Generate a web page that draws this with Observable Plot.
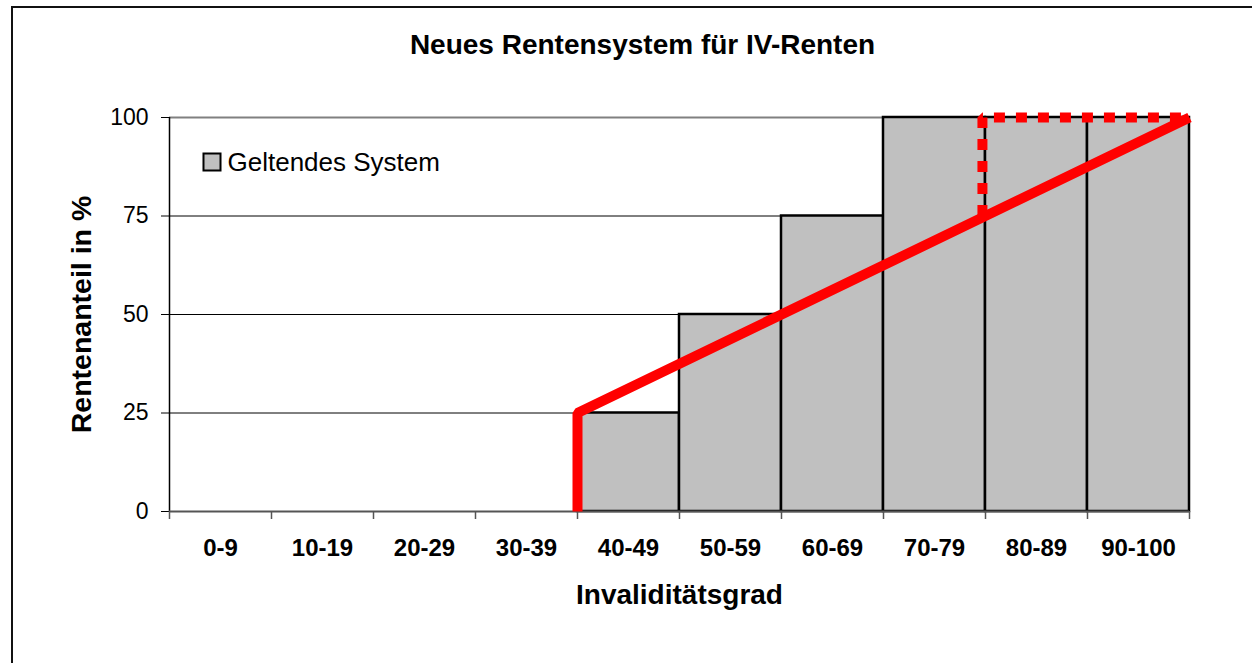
<!DOCTYPE html>
<html>
<head>
<meta charset="utf-8">
<script src="https://cdn.jsdelivr.net/npm/d3@7"></script>
<script src="https://cdn.jsdelivr.net/npm/@observablehq/plot@0.6"></script>
<style>
  html, body { margin: 0; padding: 0; background: #fff; }
  #wrap { position: relative; width: 1252px; height: 663px; overflow: hidden; font-family: "Liberation Sans", Arial, sans-serif; }
  #frame { position: absolute; left: 11px; top: 6px; width: 1300px; height: 700px; border-left: 2px solid #111; border-top: 2px solid #111; box-sizing: border-box; pointer-events: none; }
  #chart svg { display: block; }
</style>
</head>
<body>
<div id="wrap"><div id="chart"></div><div id="frame"></div></div>
<script>
// ---- data ----
const title = "Neues Rentensystem für IV-Renten";
const xTitle = "Invaliditätsgrad";
const yTitle = "Rentenanteil in %";
const legendLabel = "Geltendes System";
const categories = ["0-9", "10-19", "20-29", "30-39", "40-49", "50-59", "60-69", "70-79", "80-89", "90-100"];
const classStart = [0, 10, 20, 30, 40, 50, 60, 70, 80, 90];
const classEnd = [10, 20, 30, 40, 50, 60, 70, 80, 90, 100];
const currentSystem = [0, 0, 0, 0, 25, 50, 75, 100, 100, 100];
const newSystemX = [40, 40, 100];
const newSystemY = [0, 25, 100];
const variantX = [79.7, 79.7, 100];
const variantY = [75, 100, 100];
const yTicks = [0, 25, 50, 75, 100];
const gridValues = [25, 50, 75, 100];

// ---- derived tables ----
const bars = categories.map((c, i) => ({cat: c, start: classStart[i], end: classEnd[i], value: currentSystem[i]}));
const centers = categories.map((c, i) => (classStart[i] + classEnd[i]) / 2);
const edges = [classStart[0], ...classEnd];
const newLine = newSystemX.map((x, i) => ({x, y: newSystemY[i]}));
const variantLine = variantX.map((x, i) => ({x, y: variantY[i]}));

const font = "'Liberation Sans', Arial, sans-serif";

const chart = Plot.plot({
  width: 1252,
  height: 663,
  marginLeft: 169,
  marginRight: 63,
  marginTop: 117,
  marginBottom: 152,
  style: {fontFamily: font, background: "transparent", color: "#000", overflow: "visible"},
  x: {type: "linear", domain: [0, 100], axis: null},
  y: {domain: [0, 100], axis: null},
  marks: [
    Plot.ruleY(gridValues, {stroke: (d) => d === 100 ? "#808080" : "#000", strokeWidth: (d) => d === 100 ? 2 : 1}),
    Plot.rectY(bars.filter(d => d.value > 0), {x1: "start", x2: "end", y: "value", fill: "#c0c0c0", stroke: "#000", strokeWidth: 2.5, inset: 0}),
    Plot.ruleX([0], {y1: 0, y2: 100, stroke: "#000", strokeWidth: 1.5}),
    Plot.ruleY([0], {stroke: "#555", strokeWidth: 2}),
    Plot.axisY(yTicks, {tickSize: 8, tickPadding: 13, fontSize: 23, stroke: "#000", label: null}),
    Plot.axisX(edges, {tickSize: 8, stroke: "#555", strokeWidth: 1.5, tickFormat: () => "", label: null}),
    Plot.axisX(centers, {tickSize: 0, tickPadding: 27, fontSize: 24, fontWeight: "bold", tickFormat: d => categories[centers.indexOf(d)], label: null}),
    Plot.line(newLine, {x: "x", y: "y", stroke: "#ff0000", strokeWidth: 10, strokeLinejoin: "miter", strokeLinecap: "butt"}),
    Plot.line(variantLine, {x: "x", y: "y", stroke: "#ff0000", strokeWidth: 10, strokeDasharray: "11,11", strokeLinejoin: "miter", strokeLinecap: "butt"}),
    // legend
    Plot.dot([legendLabel], {frameAnchor: "top-left", dx: 42.5, dy: 44.5, symbol: "square", r: 9.6, fill: "#c0c0c0", stroke: "#000", strokeWidth: 2}),
    Plot.text([legendLabel], {frameAnchor: "top-left", dx: 58, dy: 45, textAnchor: "start", lineAnchor: "middle", fontSize: 26, fill: "#000"}),
    // titles
    Plot.text([title], {frameAnchor: "top", dx: -37, dy: -64, textAnchor: "middle", lineAnchor: "bottom", fontSize: 28, fontWeight: "bold", fill: "#000"}),
    Plot.text([xTitle], {frameAnchor: "bottom", dy: 92, textAnchor: "middle", lineAnchor: "bottom", fontSize: 28, fontWeight: "bold", fill: "#000"}),
    Plot.text([yTitle], {frameAnchor: "left", dx: -79, dy: 0, rotate: -90, textAnchor: "middle", lineAnchor: "bottom", fontSize: 28.5, fontWeight: "bold", fill: "#000"})
  ]
});
document.getElementById("chart").appendChild(chart);
</script>
</body>
</html>
